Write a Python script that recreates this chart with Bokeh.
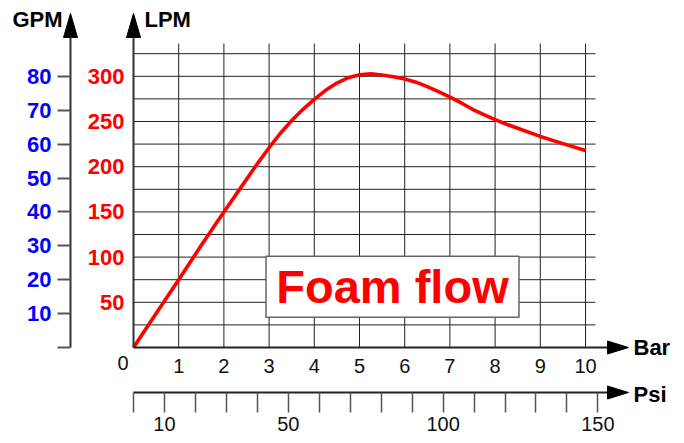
from bokeh.plotting import figure
from bokeh.models import Range1d, LinearAxis, FixedTicker
from bokeh.core.properties import value
from bokeh.embed import file_html
from bokeh.resources import INLINE

# ---------------- data ----------------
bar = [0, 0.5, 1, 1.5, 2, 2.5, 2.75, 3, 3.25, 3.5, 3.75, 4, 4.25, 4.5, 4.75, 5, 5.25, 5.5, 5.75,
       6, 6.25, 6.5, 6.75, 7, 7.25, 7.5, 7.75, 8, 8.25, 8.5, 9, 9.5, 10]
lpm = [0, 37.5, 75, 113, 150, 186, 204, 221, 237, 251, 263.5, 274.5, 284.5, 292.5, 298.5, 301.8, 302.7,
       301.5, 299.5, 297, 293.5, 288.5, 283, 277, 270.5, 263.5, 257.5, 252, 247, 242.5, 233.5, 225.5, 218]

lpm_ticks = [50, 100, 150, 200, 250, 300]
gpm_ticks = [0, 10, 20, 30, 40, 50, 60, 70, 80]
bar_ticks = [1, 2, 3, 4, 5, 6, 7, 8, 9, 10]
psi_ticks = [0, 10, 20, 30, 40, 50, 60, 70, 80, 90, 100, 110, 120, 130, 140, 150]
psi_labels = [10, 50, 100, 150]
grid_lpm = [25, 50, 75, 100, 125, 150, 175, 200, 225, 250, 275, 300, 325]
grid_bar = [1, 2, 3, 4, 5, 6, 7, 8, 9, 10]

LPM_PER_GPM = 3.75
PSI_PER_BAR = 14.6

# ---------------- geometry (style) ----------------
W, H = 684, 443
OX, OY = 133, 347          # pixel of the origin (0 bar, 0 LPM)
SX, SY = 45.2, 0.904       # pixels per bar, pixels per LPM
FONT = "Liberation Sans"


def dx(px):
    return (px - OX) / SX


def dy(py):
    return (OY - py) / SY


p = figure(width=W, height=H, x_range=Range1d(dx(0), dx(W)), y_range=Range1d(dy(H), dy(0)),
           min_border=0, toolbar_location=None, output_backend="svg",
           x_axis_location=None, y_axis_location=None, outline_line_color=None,
           background_fill_color="white", border_fill_color="white")
p.grid.visible = False
p.extra_y_ranges = {"gpm": Range1d(dy(H) / LPM_PER_GPM, dy(0) / LPM_PER_GPM)}
p.extra_x_ranges = {"psi": Range1d(dx(0) * PSI_PER_BAR, dx(W) * PSI_PER_BAR)}

grid_top = dy(43)
grid_right = dx(595)
# grid
p.segment(x0=[0] * len(grid_lpm), x1=[grid_right] * len(grid_lpm), y0=grid_lpm, y1=grid_lpm,
          line_color="#222", line_width=1)
p.segment(x0=grid_bar, x1=grid_bar, y0=[0] * len(grid_bar), y1=[grid_top] * len(grid_bar),
          line_color="#222", line_width=1)

# curve
p.line(bar, lpm, line_color="#ff0000", line_width=3.6, line_join="round")

# Foam flow box
bx, by = dx(392), dy(286.2)
p.rect(x=[bx], y=[by], width=253, height=61, width_units="screen", height_units="screen",
       fill_color="white", line_color="#666", line_width=1.5)
p.text(x=[bx], y=[by], text=["Foam flow"], text_align="center", text_baseline="middle",
       text_color="#ff0000", text_font=value(FONT), text_font_size=value("47px"),
       text_font_style="bold")

axis_top = dy(37)
axis_right = dx(607)

# LPM axis
lpm_axis = LinearAxis(fixed_location=0, bounds=(0, axis_top), ticker=FixedTicker(ticks=lpm_ticks),
                      major_tick_out=0, major_tick_in=0, minor_tick_out=0, minor_tick_in=0,
                      axis_line_color="#333", axis_line_width=2,
                      major_label_text_color="#ff0000", major_label_text_font_style="bold",
                      major_label_text_font_size="22px", major_label_text_font=FONT,
                      major_label_standoff=9)
p.add_layout(lpm_axis, "left")

# GPM axis
gpm_axis = LinearAxis(y_range_name="gpm", fixed_location=dx(70), bounds=(0, axis_top / LPM_PER_GPM),
                      ticker=FixedTicker(ticks=gpm_ticks), major_label_overrides={0: ""},
                      major_tick_out=13, major_tick_in=0, minor_tick_out=0, minor_tick_in=0,
                      major_tick_line_color="#555", major_tick_line_width=2,
                      axis_line_color="#333", axis_line_width=2,
                      major_label_text_color="#0000ff", major_label_text_font_style="bold",
                      major_label_text_font_size="22px", major_label_text_font=FONT,
                      major_label_standoff=6)
p.add_layout(gpm_axis, "left")

# Bar axis
bar_axis = LinearAxis(fixed_location=0, bounds=(0, axis_right), ticker=FixedTicker(ticks=bar_ticks),
                      major_tick_out=0, major_tick_in=0, minor_tick_out=0, minor_tick_in=0,
                      axis_line_color="#222", axis_line_width=2,
                      major_label_text_color="#111", major_label_text_font_style="normal",
                      major_label_text_font_size="20px", major_label_text_font=FONT,
                      major_label_standoff=11)
p.add_layout(bar_axis, "below")

# Psi axis
psi_axis = LinearAxis(x_range_name="psi", fixed_location=dy(392), bounds=(0, axis_right * PSI_PER_BAR),
                      ticker=FixedTicker(ticks=psi_ticks),
                      major_label_overrides={t: "" for t in psi_ticks if t not in psi_labels},
                      major_tick_out=20, major_tick_in=0, minor_tick_out=0, minor_tick_in=0,
                      major_tick_line_color="#555", major_tick_line_width=1.5,
                      axis_line_color="#222", axis_line_width=2,
                      major_label_text_color="#111", major_label_text_font_style="normal",
                      major_label_text_font_size="20px", major_label_text_font=FONT,
                      major_label_standoff=4)
p.add_layout(psi_axis, "below")

# arrow heads
heads_x = [
    [dx(63), dx(70), dx(77)],
    [dx(126), dx(133), dx(140)],
    [dx(607), dx(628), dx(607)],
    [dx(607), dx(628), dx(607)],
]
heads_y = [
    [dy(37), dy(13), dy(37)],
    [dy(37), dy(13), dy(37)],
    [dy(340.5), dy(347), dy(353.5)],
    [dy(385.5), dy(392), dy(398.5)],
]
p.patches(heads_x, heads_y, fill_color="black", line_color="black", line_width=1)

# axis titles
p.text(x=[dx(12), dx(144), dx(633), dx(633)], y=[dy(19), dy(19), dy(346.5), dy(393.5)],
       text=["GPM", "LPM", "Bar", "Psi"], text_align="left", text_baseline="middle",
       text_color="black", text_font=value(FONT), text_font_size=value("22px"),
       text_font_style="bold")
# origin label
p.text(x=[dx(122.5)], y=[dy(362.5)], text=["0"], text_align="center", text_baseline="middle",
       text_color="#111", text_font=value(FONT), text_font_size=value("20px"))

open("out.html", "w").write(file_html(p, INLINE))
